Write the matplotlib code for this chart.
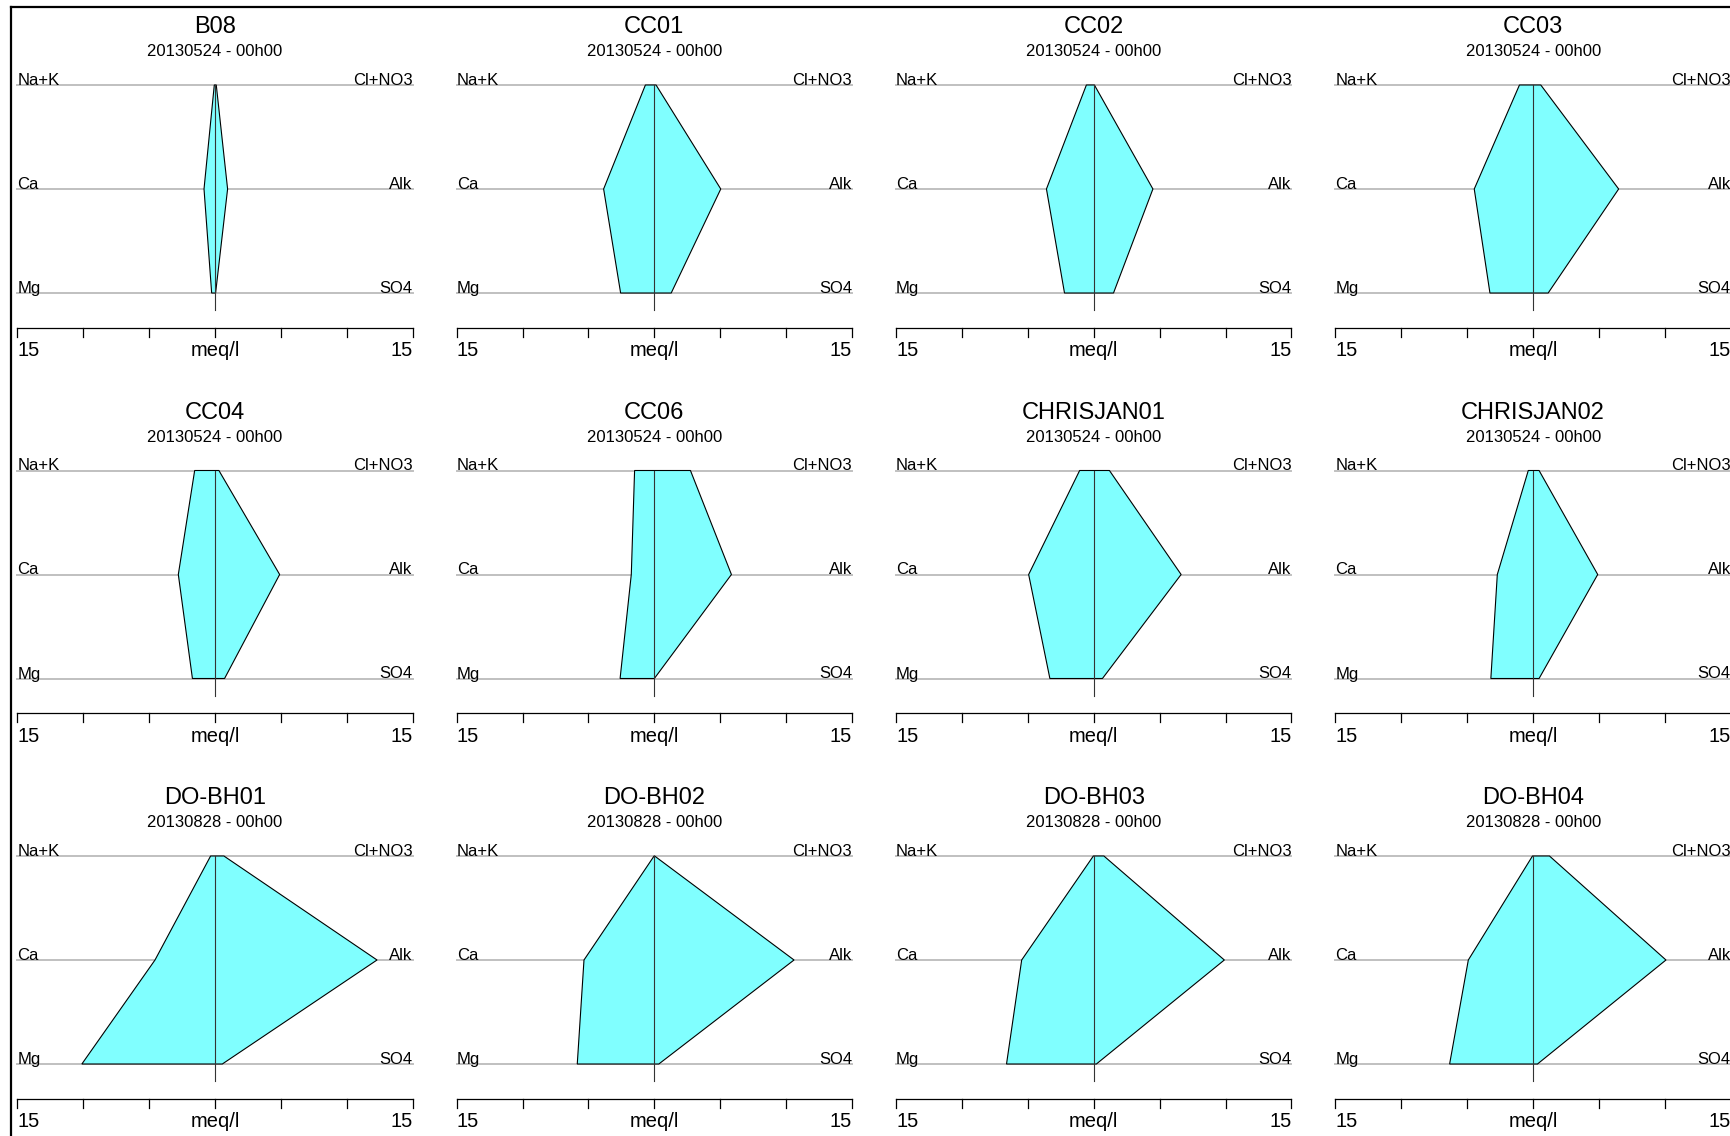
import matplotlib
matplotlib.use("Agg")
import matplotlib.pyplot as plt
from matplotlib.lines import Line2D

plt.rcParams['font.family'] = ['Liberation Sans', 'DejaVu Sans']

# stiff diagrams, values in meq/l
names = ['B08', 'CC01', 'CC02', 'CC03',
         'CC04', 'CC06', 'CHRISJAN01', 'CHRISJAN02',
         'DO-BH01', 'DO-BH02', 'DO-BH03', 'DO-BH04']
dates = ['20130524 - 00h00'] * 8 + ['20130828 - 00h00'] * 4

nak = [0.05, 0.68, 0.56, 1.04, 1.54, 1.50, 1.07, 0.37, 0.33, 0.02, 0.03, 0.05]
ca = [0.83, 3.85, 3.59, 4.47, 2.78, 1.75, 4.94, 2.72, 4.55, 5.34, 5.47, 4.92]
mg = [0.25, 2.56, 2.22, 3.28, 1.71, 2.60, 3.33, 3.21, 10.1, 5.85, 6.62, 6.34]
clno3 = [0.10, 0.13, 0.05, 0.58, 0.30, 2.74, 1.19, 0.45, 0.68, 0.02, 0.77, 1.24]
alk = [0.96, 5.04, 4.49, 6.49, 4.91, 5.85, 6.63, 4.90, 12.3, 10.6, 9.91, 10.08]
so4 = [0.05, 1.28, 1.50, 1.14, 0.73, 0.00, 0.66, 0.45, 0.56, 0.34, 0.20, 0.33]

cation_labels = ['Na+K', 'Ca', 'Mg']
anion_labels = ['Cl+NO3', 'Alk', 'SO4']
ticks = [-15, -10, -5, 0, 5, 10, 15]

W, H = 1730, 1136
fig = plt.figure(figsize=(W / 100, H / 100), dpi=100)

px = 1 / 104.0   # one pixel in y data units (rows 104 px apart)

for i, name in enumerate(names):
    row, col = divmod(i, 4)
    left = 17.3 + col * 439.4
    top = 85 + row * 385.5
    ax = fig.add_axes([left / W, 1 - (top + 208) / H, 395.3 / W, 208 / H])
    ax.set_xlim(-15, 15)
    ax.set_ylim(1, 3)
    ax.axis('off')

    # grey guide lines and their labels
    for y, cl, an in zip([3, 2, 1], cation_labels, anion_labels):
        ax.plot([-15, 15], [y, y], color='#c0c0c0', lw=1.4, clip_on=False, zorder=1)
        ax.text(-15, y, cl, ha='left', va='baseline', fontsize=12, clip_on=False)
        ax.text(15, y, an, ha='right', va='baseline', fontsize=12, clip_on=False)

    xs = [-nak[i], -ca[i], -mg[i], so4[i], alk[i], clno3[i]]
    ys = [3, 2, 1, 1, 2, 3]
    ax.fill(xs, ys, facecolor='#80ffff', edgecolor='black', lw=0.8,
            clip_on=False, zorder=2)

    # centre line
    ax.plot([0, 0], [3, 1 - 17 * px], color='#333333', lw=0.8, clip_on=False, zorder=3)

    # meq/l scale bar
    yax = 1 - 34.7 * px
    ax.plot([-15, 15], [yax, yax], color='black', lw=0.9, clip_on=False)
    for t in ticks:
        ax.plot([t, t], [yax, yax - 9 * px], color='black', lw=0.9, clip_on=False)
    ylab = 1 - 63 * px
    ax.text(-15, ylab, '15', ha='left', va='baseline', fontsize=14.5, clip_on=False)
    ax.text(15, ylab, '15', ha='right', va='baseline', fontsize=14.5, clip_on=False)
    ax.text(0, ylab, 'meq/l', ha='center', va='baseline', fontsize=14.5, clip_on=False)

    ax.text(0, 3 + 51.7 * px, name, ha='center', va='baseline', fontsize=17, clip_on=False)
    ax.text(0, 3 + 29 * px, dates[i], ha='center', va='baseline', fontsize=12, clip_on=False)

# outer frame (only left and top edges fall inside the picture)
fig.add_artist(Line2D([11 / W, 11 / W], [0, 1 - 7 / H], color='black', lw=1.6))
fig.add_artist(Line2D([11 / W, 1], [1 - 7 / H, 1 - 7 / H], color='black', lw=1.6))

fig.savefig('out.png', dpi=100)
